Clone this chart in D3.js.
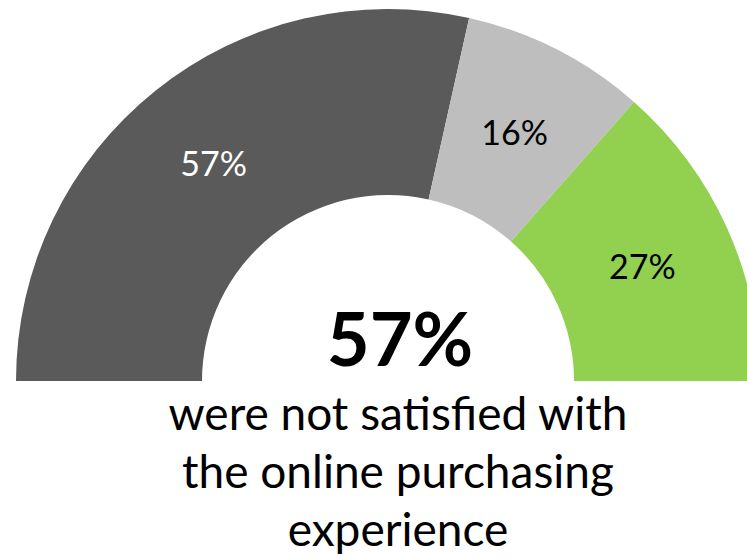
<!DOCTYPE html>
<html>
<head>
<meta charset="utf-8">
<script src="https://cdn.jsdelivr.net/npm/d3@7"></script>
<style>
  body { margin: 0; background: #fff; }
  svg { display: block; }
  text { font-family: "Futura", "Century Gothic", Lato, "Noto Sans", sans-serif; }
</style>
</head>
<body>
<div id="chart"></div>
<script>
// data
const categories = ["Not satisfied", "Neutral", "Satisfied"];
const values = [57, 16, 27];
const colors = ["#5a5a5a", "#bebebe", "#92d050"];
const labelColors = ["#ffffff", "#000000", "#000000"];
const headline = "57%";
const caption = ["were not satisfied with", "the online purchasing", "experience"];

let width = 747;
let height = 559;
let cx = 388;
let cy = 381;
let outerR = 372;
let innerR = 186;

let svg = d3.select("#chart").append("svg")
    .attr("width", width)
    .attr("height", height);

let g = svg.append("g")
    .attr("transform", "translate(" + cx + "," + cy + ")");

// half donut, from left (-90deg) to right (+90deg)
let pie = d3.pie()
    .sort(null)
    .startAngle(-Math.PI / 2)
    .endAngle(Math.PI / 2)
    .value(function (d) { return d; });

let arc = d3.arc()
    .innerRadius(innerR)
    .outerRadius(outerR);

let arcs = pie(values);

g.selectAll("path")
    .data(arcs)
    .enter().append("path")
    .attr("d", arc)
    .attr("fill", function (d, i) { return colors[i]; });

// slice labels
g.selectAll("text.slice")
    .data(arcs)
    .enter().append("text")
    .attr("class", "slice")
    .attr("transform", function (d) { return "translate(" + arc.centroid(d) + ")"; })
    .attr("text-anchor", "middle")
    .attr("dy", "0.37em")
    .style("font-size", "34px")
    .attr("fill", function (d, i) { return labelColors[i]; })
    .text(function (d) { return d.data + "%"; });

// big number in the middle
svg.append("text")
    .attr("x", 400)
    .attr("y", 366)
    .attr("text-anchor", "middle")
    .style("font-size", "74px")
    .style("font-weight", "bold")
    .attr("fill", "#000")
    .text(headline);

// caption under the gauge
svg.selectAll("text.caption")
    .data(caption)
    .enter().append("text")
    .attr("class", "caption")
    .attr("x", 398)
    .attr("y", function (d, i) { return 430 + i * 58; })
    .attr("text-anchor", "middle")
    .style("font-size", "46px")
    .attr("fill", "#000")
    .text(function (d) { return d; });
</script>
</body>
</html>
